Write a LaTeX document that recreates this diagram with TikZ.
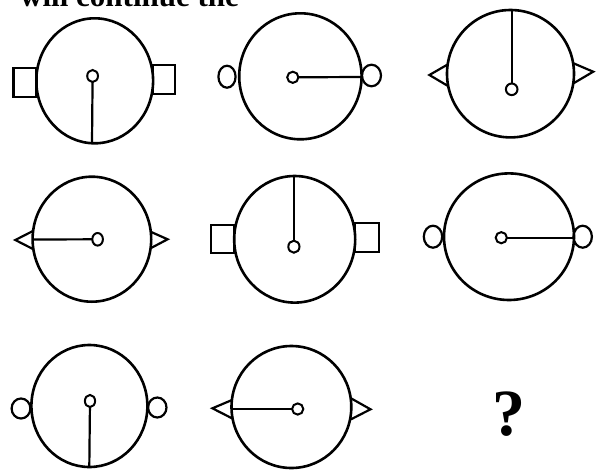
\documentclass[tikz,border=0pt]{standalone}
\usepackage{fontspec}
\setmainfont{Liberation Serif}
\begin{document}
\begin{tikzpicture}[x=1pt,y=-1pt,
  face/.style={line width=2.6pt},
  hand/.style={line width=2.2pt},
  hub/.style={line width=2pt, fill=white},
  ear/.style={line width=2.2pt, line join=miter},
  qtext/.style={inner sep=0pt, font=\fontsize{66}{66}\selectfont\bfseries},
  toptext/.style={inner sep=0pt, font=\fontsize{31}{31}\selectfont\bfseries}]
\useasboundingbox (0,0) rectangle (600,469);
\clip (0,0) rectangle (600,469);

% top line of text (cut off)
\node[toptext, anchor=base west] (title) at (20,6) {will continue the};

% ---------- figure 1 ----------
\coordinate (c1) at (94.7,80.8);
\coordinate (h1) at (92.6,76);
\coordinate (r1) at (92,143.3);
\draw[ear] (13.4,68.3) rectangle (36.4,96.7);
\draw[ear] (153,65) rectangle (175,94);
\draw[face] (c1) ellipse [x radius=58.4, y radius=62.5];
\draw[hand] (h1) -- (r1);
\draw[hub] (h1) ellipse [x radius=5.4, y radius=6];

% ---------- figure 2 ----------
\coordinate (c2) at (300.4,76.3);
\coordinate (h2) at (292.8,77.3);
\coordinate (r2) at (361.6,77);
\draw[ear] (227,76.7) ellipse [x radius=8.6, y radius=11];
\draw[ear] (371.5,75.5) ellipse [x radius=9.5, y radius=10.8];
\draw[face] (c2) ellipse [x radius=61.2, y radius=63];
\draw[hand] (h2) -- (r2);
\draw[hub] (h2) ellipse [x radius=5.6, y radius=5.6];

% ---------- figure 3 ----------
\coordinate (c3) at (510.5,73.7);
\coordinate (h3) at (511.7,89.3);
\coordinate (r3) at (511.7,10);
\draw[ear] (448,64.3) -- (429.4,75) -- (448,86);
\draw[ear] (573.5,63.3) -- (593.2,71.7) -- (573.5,83.3);
\draw[face] (c3) ellipse [x radius=63.5, y radius=63.7];
\draw[hand] (h3) -- (r3);
\draw[hub] (h3) ellipse [x radius=5.8, y radius=5.8];

% ---------- figure 4 ----------
\coordinate (c4) at (91.9,239.2);
\coordinate (h4) at (97.6,239.3);
\coordinate (r4) at (32.6,239.5);
\draw[ear] (33.5,230.7) -- (15.3,240) -- (33.5,249.3);
\draw[ear] (150.5,231.7) -- (167.6,239.3) -- (150.5,248.3);
\draw[face] (c4) ellipse [x radius=59.3, y radius=62.5];
\draw[hand] (h4) -- (r4);
\draw[hub] (h4) ellipse [x radius=5.3, y radius=6.3];

% ---------- figure 5 ----------
\coordinate (c5) at (294.7,239.3);
\coordinate (h5) at (293.9,246.7);
\coordinate (r5) at (293.9,176);
\draw[ear] (211.3,225) rectangle (234.2,253.3);
\draw[ear] (355.1,223.3) rectangle (378.9,251.7);
\draw[face] (c5) ellipse [x radius=60.5, y radius=63.3];
\draw[hand] (h5) -- (r5);
\draw[hub] (h5) ellipse [x radius=5.6, y radius=6];

% ---------- figure 6 ----------
\coordinate (c6) at (509,236.7);
\coordinate (h6) at (501.3,237.7);
\coordinate (r6) at (574,237.7);
\draw[ear] (433,236.7) ellipse [x radius=9.2, y radius=11];
\draw[ear] (582.7,236.7) ellipse [x radius=9.2, y radius=11];
\draw[face] (c6) ellipse [x radius=65, y radius=63.3];
\draw[hand] (h6) -- (r6);
\draw[hub] (h6) ellipse [x radius=5.6, y radius=5.6];

% ---------- figure 7 ----------
\coordinate (c7) at (89.4,406);
\coordinate (h7) at (90,401);
\coordinate (r7) at (89.3,467);
\draw[ear] (21,408.5) ellipse [x radius=9.4, y radius=10];
\draw[ear] (157.3,407.5) ellipse [x radius=9.2, y radius=10];
\draw[face] (c7) ellipse [x radius=58, y radius=61];
\draw[hand] (h7) -- (r7);
\draw[hub] (h7) ellipse [x radius=5.1, y radius=6.1];

% ---------- figure 8 ----------
\coordinate (c8) at (291.4,407);
\coordinate (h8) at (297.7,409);
\coordinate (r8) at (231.5,409);
\draw[ear] (232,400) -- (212.4,408.3) -- (232,418.3);
\draw[ear] (351,398.3) -- (370.5,409.3) -- (351,419.3);
\draw[face] (c8) ellipse [x radius=59.9, y radius=61];
\draw[hand] (h8) -- (r8);
\draw[hub] (h8) ellipse [x radius=5.6, y radius=5.6];

% ---------- question mark ----------
\node[qtext, anchor=base] (q) at (509,435) {?};
\end{tikzpicture}
\end{document}
